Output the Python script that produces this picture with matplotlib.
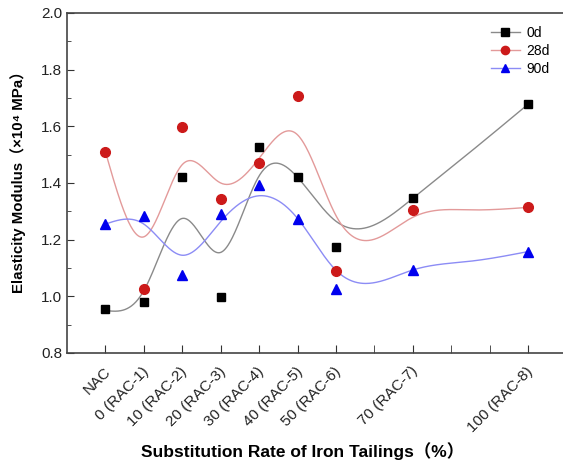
import numpy as np
import matplotlib
matplotlib.use("Agg")
import matplotlib.pyplot as plt
from matplotlib.ticker import MultipleLocator, NullFormatter
from matplotlib.transforms import ScaledTranslation

plt.rcParams['font.family'] = ['Liberation Sans', 'DejaVu Sans', 'Noto Sans CJK SC']

# x positions (NAC drawn at -10)
x = [-10, 0, 10, 20, 30, 40, 50, 70, 100]
tick_labels = ["NAC", "0 (RAC-1)", "10 (RAC-2)", "20 (RAC-3)", "30 (RAC-4)",
               "40 (RAC-5)", "50 (RAC-6)", "70 (RAC-7)", "100 (RAC-8)"]

# measured points
e_0d = [0.954, 0.979, 1.42, 0.997, 1.528, 1.42, 1.173, 1.346, 1.678]
e_28d = [1.51, 1.027, 1.598, 1.344, 1.47, 1.706, 1.089, 1.305, 1.314]
e_90d = [1.255, 1.284, 1.075, 1.29, 1.392, 1.272, 1.025, 1.093, 1.158]

# values the smoothed curves pass through
curve_x = [-10, 0, 10, 20, 30, 40, 50, 70, 85, 100]
curve_0d = [0.95, 1.02, 1.275, 1.155, 1.425, 1.42, 1.265, 1.346, 1.51, 1.678]
curve_28d = [1.51, 1.21, 1.465, 1.40, 1.487, 1.57, 1.285, 1.279, 1.305, 1.314]
curve_90d = [1.255, 1.255, 1.145, 1.264, 1.355, 1.275, 1.092, 1.093, 1.124, 1.158]


def natural_spline(xk, yk, xs):
    xk = np.asarray(xk, float)
    yk = np.asarray(yk, float)
    n = len(xk)
    h = np.diff(xk)
    A = np.zeros((n, n))
    b = np.zeros(n)
    A[0, 0] = 1
    A[-1, -1] = 1
    for i in range(1, n - 1):
        A[i, i - 1] = h[i - 1]
        A[i, i] = 2 * (h[i - 1] + h[i])
        A[i, i + 1] = h[i]
        b[i] = 3 * ((yk[i + 1] - yk[i]) / h[i] - (yk[i] - yk[i - 1]) / h[i - 1])
    c = np.linalg.solve(A, b)
    bb = (yk[1:] - yk[:-1]) / h - h * (2 * c[:-1] + c[1:]) / 3
    d = (c[1:] - c[:-1]) / (3 * h)
    idx = np.clip(np.searchsorted(xk, xs) - 1, 0, n - 2)
    dx = xs - xk[idx]
    return yk[idx] + bb[idx] * dx + c[idx] * dx ** 2 + d[idx] * dx ** 3


fig = plt.figure(figsize=(5.63, 4.66), dpi=100)
ax = fig.add_axes([67 / 563, 1 - 353 / 466, 499.5 / 563, 340 / 466])

xs = np.linspace(-10, 100, 600)
series = [
    (e_0d, curve_0d, "0d", "#000000", "#8a8a8a", "s", 6),
    (e_28d, curve_28d, "28d", "#cc1a1a", "#e39a9a", "o", 7),
    (e_90d, curve_90d, "90d", "#0000ee", "#8c8cf5", "^", 7.5),
]
for pts, crv, name, mc, lc, mk, ms in series:
    ax.plot(xs, natural_spline(curve_x, crv, xs), color=lc, lw=1.0, zorder=2)
    ax.plot(x, pts, ls="none", marker=mk, ms=ms, color=mc, zorder=3)
    ax.plot([], [], color=lc, lw=1.0, marker=mk, ms=ms * 0.85, mfc=mc, mec=mc, label=name)

ax.set_xlim(-20, 110)
ax.set_ylim(0.8, 2.0)
ax.set_xticks(x)
ax.xaxis.set_major_formatter(NullFormatter())
ax.set_xticks([60, 80, 90], minor=True)
# rotated category labels, nudged so their ends sit near the ticks
lab_tr = ax.get_xaxis_transform() + ScaledTranslation(-1.5 / 72, -8 / 72, fig.dpi_scale_trans)
for xi, lab in zip(x, tick_labels):
    ax.text(xi, 0, lab, transform=lab_tr, rotation=45, ha="right", va="top",
            rotation_mode="anchor", fontsize=11, color="#222222")

ax.yaxis.set_major_locator(MultipleLocator(0.2))
ax.yaxis.set_minor_locator(MultipleLocator(0.1))
ax.tick_params(axis="both", which="both", direction="in", labelsize=11, colors="#333333",
               labelcolor="#222222")
ax.tick_params(axis="x", which="both", length=6)
ax.tick_params(axis="y", which="major", length=5)
ax.tick_params(axis="y", which="minor", length=3)
ax.yaxis.set_major_formatter(matplotlib.ticker.FormatStrFormatter("%.1f"))

for s in ax.spines.values():
    s.set_linewidth(1.2)
    s.set_color("#444444")

ax.set_xlabel("Substitution Rate of Iron Tailings（%）", fontsize=12.5, fontweight="bold")
ax.xaxis.set_label_coords((303 - 67) / 499.5, (353 - 442) / 340)
ax.set_ylabel("Elasticity Modulus（×10⁴ MPa）", fontsize=10.8, fontweight="bold")
ax.yaxis.set_label_coords((26 - 67) / 499.5, (353 - 178) / 340)

ax.legend(loc="upper right", bbox_to_anchor=(0.967, 0.962), frameon=False, fontsize=10,
          handlelength=2.1, handletextpad=0.5, labelspacing=0.3, borderpad=0,
          borderaxespad=0)

fig.savefig("out.png", dpi=100)
